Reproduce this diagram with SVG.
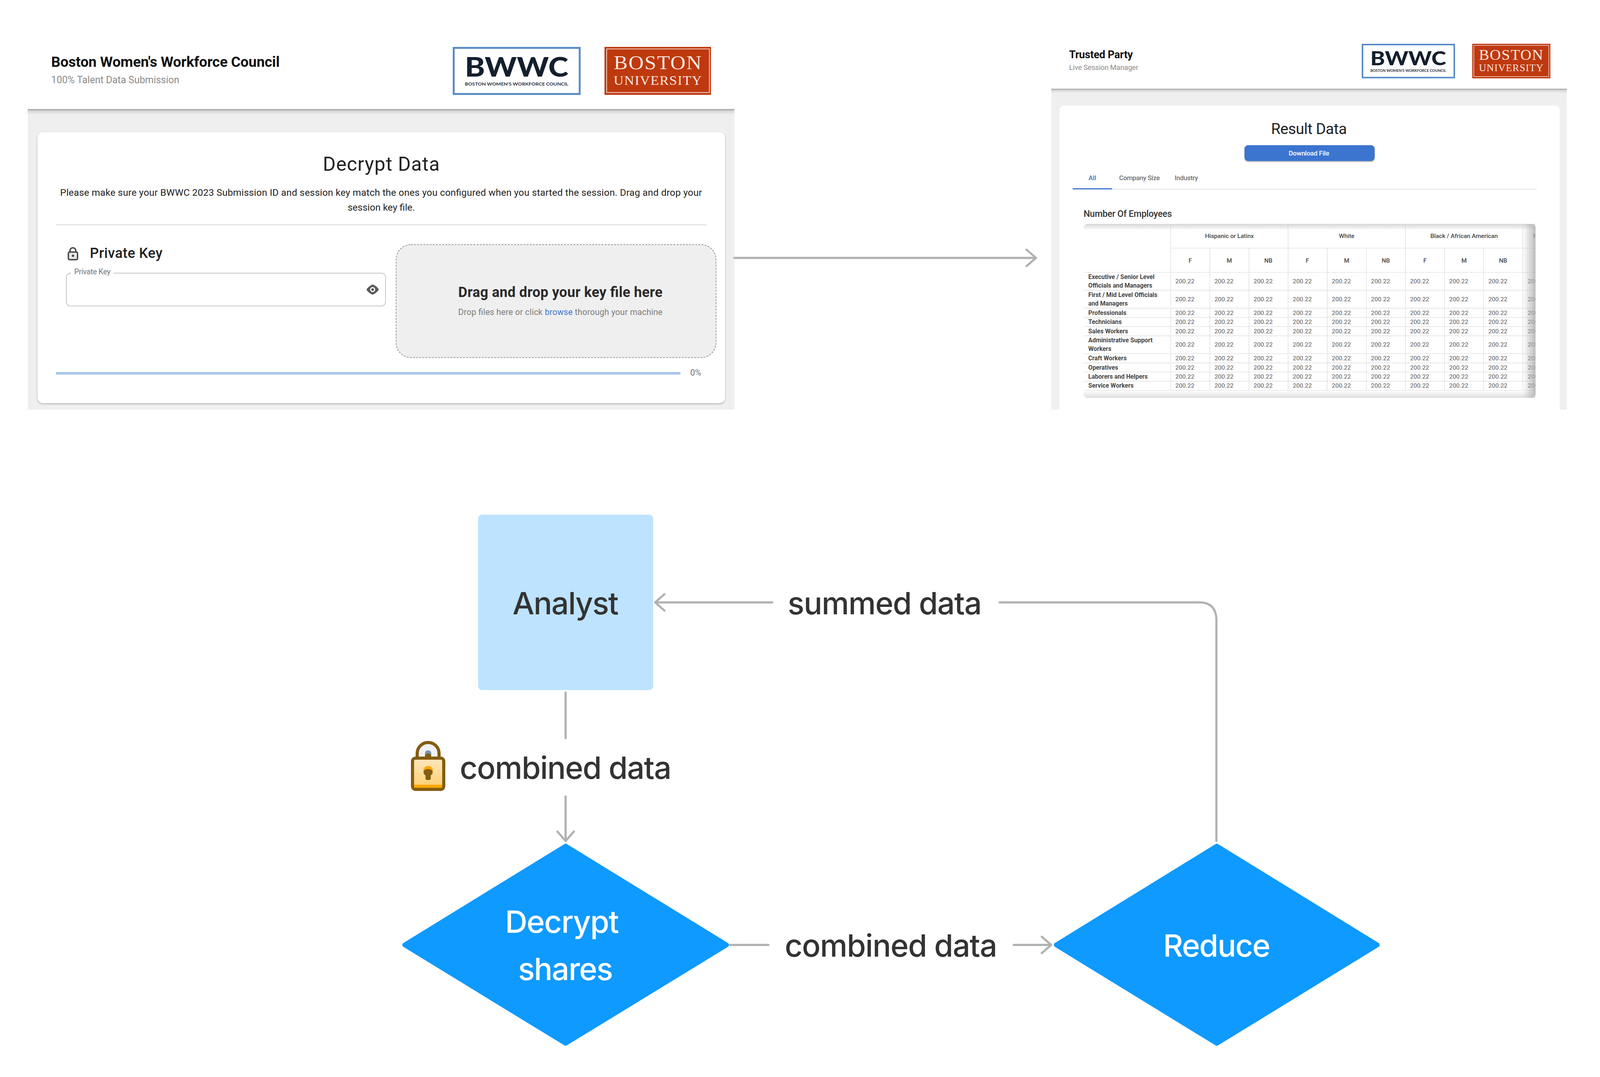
<svg xmlns="http://www.w3.org/2000/svg" width="4118" height="2756" viewBox="0 0 4118 2756">
<style>
text{font-family:Roboto,"Liberation Sans",sans-serif}
.in{font-family:Inter,"Liberation Sans",sans-serif;font-size:79px;font-weight:500;fill:#333;text-anchor:middle}
.inw{fill:#fff}
.link{fill:none;stroke:#b1b1b1;stroke-width:5.5;stroke-linecap:round;stroke-linejoin:round}
.v{font-size:15.5px;fill:#555;letter-spacing:.2px}
.rl{font-size:15.8px;font-weight:700;fill:#444}
.th{font-size:15.5px;font-weight:500;fill:#444;text-anchor:middle}
.bw{font-family:Lato,"Liberation Sans",sans-serif;font-weight:900;fill:#141f2e}
.bws{font-family:Lato,"Liberation Sans",sans-serif;font-weight:700;fill:#2a3442}
.bu{font-family:"Liberation Serif",serif;fill:#f7e9e2}
.dm{fill:#0f9aff;stroke:#0f9aff;stroke-width:12;stroke-linejoin:round}
</style>
<defs>
<linearGradient id="hdr" x1="0" y1="0" x2="0" y2="1"><stop offset="0" stop-color="#9a9a9a"/><stop offset=".35" stop-color="#d5d5d5"/><stop offset="1" stop-color="#efefef"/></linearGradient>
<linearGradient id="sr" x1="0" y1="0" x2="1" y2="0"><stop offset="0" stop-color="#b0b0b0" stop-opacity="0"/><stop offset="1" stop-color="#b0b0b0" stop-opacity=".85"/></linearGradient>
<linearGradient id="st" x1="0" y1="0" x2="0" y2="1"><stop offset="0" stop-color="#ccc" stop-opacity=".8"/><stop offset="1" stop-color="#ccc" stop-opacity="0"/></linearGradient>
<linearGradient id="sb" x1="0" y1="0" x2="0" y2="1"><stop offset="0" stop-color="#ddd" stop-opacity="0"/><stop offset="1" stop-color="#ddd" stop-opacity="1"/></linearGradient>
<linearGradient id="lockg" x1="0" y1="0" x2="0" y2="1"><stop offset="0" stop-color="#ffe7bd"/><stop offset="1" stop-color="#fdcf6e"/></linearGradient>
<filter id="card" x="-3%" y="-3%" width="106%" height="106%"><feDropShadow dx="0" dy="2" stdDeviation="2" flood-color="#000" flood-opacity=".3"/></filter>
<filter id="btn" x="-5%" y="-20%" width="110%" height="150%"><feDropShadow dx="0" dy="2" stdDeviation="1.5" flood-color="#000" flood-opacity=".35"/></filter>
<clipPath id="tbl"><rect x="2774" y="573" width="1157" height="445" rx="10"/></clipPath>
<marker id="arrow" viewBox="0 0 30 48" refX="28" refY="24" markerWidth="30" markerHeight="48" markerUnits="userSpaceOnUse" orient="auto"><path d="M4 3L28 24L4 45" fill="none" stroke="#b1b1b1" stroke-width="5.5" stroke-linecap="round" stroke-linejoin="round"/></marker>
</defs>
<rect width="4118" height="2756" fill="#fff"/>

<g id="screen-decrypt">
<text x="131" y="171" font-size="37" font-weight="700" fill="#111" textLength="585">Boston Women's Workforce Council</text>
<text x="131" y="212.500" font-size="25" fill="#8a8a8a" textLength="328">100% Talent Data Submission</text>
<g id="logo-bwwc-1">
<rect x="1161.500" y="122.500" width="322.500" height="118" fill="#fff" stroke="#5b8dc9" stroke-width="5"/>
<text class="bw" x="1190" y="196" font-size="69" textLength="265" lengthAdjust="spacingAndGlyphs">BWWC</text>
<text class="bws" x="1190" y="219" font-size="12" textLength="265" lengthAdjust="spacingAndGlyphs">BOSTON WOMEN'S WORKFORCE COUNCIL</text>
</g>
<g id="logo-bu-1">
<rect x="1547.500" y="120" width="272.500" height="122.700" fill="#bf390f"/>
<rect x="1553" y="125.300" width="263" height="111.400" fill="none" stroke="#f7e9e2" stroke-width="1.800"/>
<text class="bu" x="1571" y="177.300" font-size="50" letter-spacing="2" textLength="227" lengthAdjust="spacingAndGlyphs">BOSTON</text>
<text class="bu" x="1571" y="217.300" font-size="33" letter-spacing="1.500" textLength="227" lengthAdjust="spacingAndGlyphs">UNIVERSITY</text>
</g>
<rect x="71" y="279" width="1809" height="769" fill="#efefef"/>
<rect x="71" y="279" width="1809" height="14" fill="url(#hdr)"/>
<rect x="96" y="338.500" width="1760" height="693" rx="14" fill="#fff" filter="url(#card)"/>
<text x="976" y="436.700" font-size="50" fill="#222" text-anchor="middle" textLength="299">Decrypt Data</text>
<text x="154" y="501" font-size="24.500" fill="#222" textLength="1643">Please make sure your BWWC 2023 Submission ID and session key match the ones you configured when you started the session. Drag and drop your</text>
<text x="976" y="539" font-size="24.500" fill="#222" text-anchor="middle">session key file.</text>
<rect x="143" y="574" width="1666" height="2.500" fill="#e0e0e0"/>
<g id="lock-small" fill="#444">
<path d="M179 645v-3.500a7.500 7.500 0 0 1 15 0V645" fill="none" stroke="#444" stroke-width="3.500"/>
<rect x="175" y="645" width="23.500" height="19.500" rx="3" fill="#e6e6e6" stroke="#444" stroke-width="3.500"/>
<circle cx="186.800" cy="654.500" r="3"/>
</g>
<text x="230" y="660" font-size="36" font-weight="500" fill="#222" textLength="186">Private Key</text>
<path d="M182 699H180a10 10 0 0 0-10 10V773a10 10 0 0 0 10 10H977a10 10 0 0 0 10-10V709a10 10 0 0 0-10-10H291" fill="none" stroke="#c6c6c6" stroke-width="2"/>
<text x="190" y="702" font-size="19.500" fill="#777" textLength="93">Private Key</text>
<g id="eye">
<path d="M938 741c6-9 15-13 16-13s11 4 16 13c-6 9-15 13-16 13s-11-4-16-13z" fill="#5a5a5a"/>
<circle cx="954" cy="741" r="6.500" fill="#fff"/>
<circle cx="954" cy="741" r="3.500" fill="#5a5a5a"/>
</g>
<rect x="1014" y="626" width="819" height="289" rx="38" fill="#efefef" stroke="#9a9a9a" stroke-width="2" stroke-dasharray="5 3"/>
<text x="1173" y="760" font-size="36" font-weight="700" fill="#2a2a2a" textLength="523">Drag and drop your key file here</text>
<text x="1173" y="806" font-size="21.500" fill="#7b7b7b" textLength="523">Drop files here or click <tspan fill="#3a75d0">browse</tspan> thorough your machine</text>
<rect x="143" y="952" width="1599" height="6.500" fill="#a9c6ea"/>
<text x="1767" y="961" font-size="22" fill="#777" textLength="28">0%</text>
</g>

<g id="screen-result">
<text x="2737" y="149" font-size="27" font-weight="700" fill="#111" textLength="163">Trusted Party</text>
<text x="2737" y="179" font-size="18.500" fill="#8a8a8a" textLength="177">Live Session Manager</text>
<g id="logo-bwwc-2">
<rect x="3488" y="114" width="235" height="84.500" fill="#fff" stroke="#5b8dc9" stroke-width="4"/>
<text class="bw" x="3508" y="167" font-size="50" textLength="194" lengthAdjust="spacingAndGlyphs">BWWC</text>
<text class="bws" x="3508" y="183.500" font-size="9" textLength="194" lengthAdjust="spacingAndGlyphs">BOSTON WOMEN'S WORKFORCE COUNCIL</text>
</g>
<g id="logo-bu-2">
<rect x="3769" y="112" width="200" height="88.500" fill="#bf390f"/>
<rect x="3773" y="116" width="192" height="80" fill="none" stroke="#f7e9e2" stroke-width="1.400"/>
<text class="bu" x="3786" y="153" font-size="37" letter-spacing="1.500" textLength="166" lengthAdjust="spacingAndGlyphs">BOSTON</text>
<text class="bu" x="3786" y="182" font-size="24.500" letter-spacing="1" textLength="166" lengthAdjust="spacingAndGlyphs">UNIVERSITY</text>
</g>
<rect x="2691.500" y="227" width="1319.500" height="821" fill="#efefef"/>
<rect x="2691.500" y="227" width="1319.500" height="11" fill="url(#hdr)"/>
<path d="M2712 1048V282a12 12 0 0 1 12-12H3981a12 12 0 0 1 12 12V1048z" fill="#fff"/>
<text x="3351" y="343" font-size="39" fill="#222" text-anchor="middle" textLength="194">Result Data</text>
<rect x="3186" y="371.500" width="333" height="40.500" rx="9" fill="#3a75d0" filter="url(#btn)"/>
<text x="3351" y="397.600" font-size="17" font-weight="500" fill="#fff" text-anchor="middle" textLength="104">Download File</text>
<text x="2796.500" y="461" font-size="17" font-weight="500" fill="#3a75d0" text-anchor="middle">All</text>
<text x="2865" y="461" font-size="17" font-weight="500" fill="#6e6e6e" textLength="104">Company Size</text>
<text x="3007" y="461" font-size="17" font-weight="500" fill="#6e6e6e" textLength="60">Industry</text>
<rect x="2746" y="483.500" width="1188" height="1.500" fill="#dcdcdc"/>
<rect x="2746" y="481.500" width="101" height="3" fill="#3a75d0"/>
<text x="2774" y="555" font-size="23" font-weight="500" fill="#333" textLength="226">Number Of Employees</text>
<rect x="3915" y="573" width="16" height="445" fill="#e4e4e4"/>
<g id="result-table" clip-path="url(#tbl)">
<rect x="2774" y="573" width="1157" height="445" fill="#fff"/>
<path d="M2997 573V999M3297.500 573V999M3597.900 573V999M3898.400 573V999M3097.200 635V999M3197.300 635V999M3397.600 635V999M3497.800 635V999M3698 635V999M3798.200 635V999M2997 635H3931M2774 697H3931M2774 742.700H3931M2774 788.700H3931M2774 812.300H3931M2774 835.700H3931M2774 859.300H3931M2774 905H3931M2774 928.700H3931M2774 952H3931M2774 975.700H3931M2774 999H3931" fill="none" stroke="#e3e3e3" stroke-width="1.700"/>
<text class="th" x="3147.400" y="609.300">Hispanic or Latinx</text>
<text class="th" x="3447.600" y="609.300">White</text>
<text class="th" x="3748" y="609.300">Black / African American</text>
<text class="th" x="3925" y="609.300" style="text-anchor:start">N</text>
<text class="th" y="672"><tspan x="3047">F</tspan><tspan x="3147">M</tspan><tspan x="3247">NB</tspan><tspan x="3347">F</tspan><tspan x="3447.500">M</tspan><tspan x="3547.700">NB</tspan><tspan x="3648">F</tspan><tspan x="3748">M</tspan><tspan x="3848">NB</tspan></text>
<text class="rl" x="2786" y="714.300">Executive / Senior Level</text>
<text class="rl" x="2786" y="736">Officials and Managers</text>
<text class="rl" x="2786" y="760">First / Mid Level Officials</text>
<text class="rl" x="2786" y="782">and Managers</text>
<text class="rl" x="2786" y="805.700">Professionals</text>
<text class="rl" x="2786" y="829.300">Technicians</text>
<text class="rl" x="2786" y="852.700">Sales Workers</text>
<text class="rl" x="2786" y="876">Administrative Support</text>
<text class="rl" x="2786" y="898.300">Workers</text>
<text class="rl" x="2786" y="922">Craft Workers</text>
<text class="rl" x="2786" y="945.700">Operatives</text>
<text class="rl" x="2786" y="969">Laborers and Helpers</text>
<text class="rl" x="2786" y="992.300">Service Workers</text>
<text class="v" y="725.300"><tspan x="3009">200.22</tspan><tspan x="3109.200">200.22</tspan><tspan x="3209.300">200.22</tspan><tspan x="3309.500">200.22</tspan><tspan x="3409.600">200.22</tspan><tspan x="3509.800">200.22</tspan><tspan x="3609.900">200.22</tspan><tspan x="3710">200.22</tspan><tspan x="3810.200">200.22</tspan><tspan x="3911">200.22</tspan></text>
<text class="v" y="771"><tspan x="3009">200.22</tspan><tspan x="3109.200">200.22</tspan><tspan x="3209.300">200.22</tspan><tspan x="3309.500">200.22</tspan><tspan x="3409.600">200.22</tspan><tspan x="3509.800">200.22</tspan><tspan x="3609.900">200.22</tspan><tspan x="3710">200.22</tspan><tspan x="3810.200">200.22</tspan><tspan x="3911">200.22</tspan></text>
<text class="v" y="805.700"><tspan x="3009">200.22</tspan><tspan x="3109.200">200.22</tspan><tspan x="3209.300">200.22</tspan><tspan x="3309.500">200.22</tspan><tspan x="3409.600">200.22</tspan><tspan x="3509.800">200.22</tspan><tspan x="3609.900">200.22</tspan><tspan x="3710">200.22</tspan><tspan x="3810.200">200.22</tspan><tspan x="3911">200.22</tspan></text>
<text class="v" y="829.300"><tspan x="3009">200.22</tspan><tspan x="3109.200">200.22</tspan><tspan x="3209.300">200.22</tspan><tspan x="3309.500">200.22</tspan><tspan x="3409.600">200.22</tspan><tspan x="3509.800">200.22</tspan><tspan x="3609.900">200.22</tspan><tspan x="3710">200.22</tspan><tspan x="3810.200">200.22</tspan><tspan x="3911">200.22</tspan></text>
<text class="v" y="852.700"><tspan x="3009">200.22</tspan><tspan x="3109.200">200.22</tspan><tspan x="3209.300">200.22</tspan><tspan x="3309.500">200.22</tspan><tspan x="3409.600">200.22</tspan><tspan x="3509.800">200.22</tspan><tspan x="3609.900">200.22</tspan><tspan x="3710">200.22</tspan><tspan x="3810.200">200.22</tspan><tspan x="3911">200.22</tspan></text>
<text class="v" y="887.300"><tspan x="3009">200.22</tspan><tspan x="3109.200">200.22</tspan><tspan x="3209.300">200.22</tspan><tspan x="3309.500">200.22</tspan><tspan x="3409.600">200.22</tspan><tspan x="3509.800">200.22</tspan><tspan x="3609.900">200.22</tspan><tspan x="3710">200.22</tspan><tspan x="3810.200">200.22</tspan><tspan x="3911">200.22</tspan></text>
<text class="v" y="922"><tspan x="3009">200.22</tspan><tspan x="3109.200">200.22</tspan><tspan x="3209.300">200.22</tspan><tspan x="3309.500">200.22</tspan><tspan x="3409.600">200.22</tspan><tspan x="3509.800">200.22</tspan><tspan x="3609.900">200.22</tspan><tspan x="3710">200.22</tspan><tspan x="3810.200">200.22</tspan><tspan x="3911">200.22</tspan></text>
<text class="v" y="945.700"><tspan x="3009">200.22</tspan><tspan x="3109.200">200.22</tspan><tspan x="3209.300">200.22</tspan><tspan x="3309.500">200.22</tspan><tspan x="3409.600">200.22</tspan><tspan x="3509.800">200.22</tspan><tspan x="3609.900">200.22</tspan><tspan x="3710">200.22</tspan><tspan x="3810.200">200.22</tspan><tspan x="3911">200.22</tspan></text>
<text class="v" y="969"><tspan x="3009">200.22</tspan><tspan x="3109.200">200.22</tspan><tspan x="3209.300">200.22</tspan><tspan x="3309.500">200.22</tspan><tspan x="3409.600">200.22</tspan><tspan x="3509.800">200.22</tspan><tspan x="3609.900">200.22</tspan><tspan x="3710">200.22</tspan><tspan x="3810.200">200.22</tspan><tspan x="3911">200.22</tspan></text>
<text class="v" y="992.300"><tspan x="3009">200.22</tspan><tspan x="3109.200">200.22</tspan><tspan x="3209.300">200.22</tspan><tspan x="3309.500">200.22</tspan><tspan x="3409.600">200.22</tspan><tspan x="3509.800">200.22</tspan><tspan x="3609.900">200.22</tspan><tspan x="3710">200.22</tspan><tspan x="3810.200">200.22</tspan><tspan x="3911">200.22</tspan></text>
<rect x="2774" y="573" width="1157" height="16" fill="url(#st)"/>
<rect x="2774" y="1000" width="1157" height="18" fill="url(#sb)"/>
<rect x="3899" y="573" width="32" height="445" fill="url(#sr)"/>
</g>
</g>

<g id="connectors">
<path class="link" d="M1880 660H2652" marker-end="url(#arrow)"/>
<path class="link" d="M1977 1541.500H1677" marker-end="url(#arrow)"/>
<path class="link" d="M2559 1541.500H3070Q3114 1541.500 3114 1588V2152"/>
<path class="link" d="M1448 1772V1889"/>
<path class="link" d="M1448 2038V2152" marker-end="url(#arrow)"/>
<path class="link" d="M1869 2418H1967"/>
<path class="link" d="M2595 2418H2691" marker-end="url(#arrow)"/>
</g>

<g id="analyst">
<rect x="1224" y="1317" width="448" height="449" rx="10" fill="#bde3ff"/>
<text class="in" x="1448" y="1572" textLength="272">Analyst</text>
</g>
<g id="decrypt-shares">
<path class="dm" d="M1448 2165L1860 2418L1448 2670L1036 2418Z"/>
<text class="in inw" x="1439" y="2387" textLength="292">Decrypt</text>
<text class="in inw" x="1448" y="2508" textLength="243">shares</text>
</g>
<g id="reduce">
<path class="dm" d="M3115 2165L3526 2418L3115 2670L2704 2418Z"/>
<text class="in inw" x="3115" y="2448" textLength="275">Reduce</text>
</g>
<g id="edge-labels">
<text class="in" x="2265" y="1572" textLength="497">summed data</text>
<text class="in" x="1448" y="1993" textLength="542">combined data</text>
<text class="in" x="2281" y="2448" textLength="544">combined data</text>
</g>
<g id="lock-emoji" transform="translate(1030 1880) scale(.3333)">
<path d="M114 190V144a84 84 0 0 1 168 0V190" fill="#f0f2f5" stroke="#835d11" stroke-width="24"/>
<rect x="174" y="120" width="48" height="80" rx="24" fill="#7e93a8"/>
<path d="M174 192V168a24 24 0 0 1 48 0V192z" fill="#835d11"/>
<rect x="78" y="180" width="240" height="240" rx="24" fill="url(#lockg)" stroke="#835d11" stroke-width="24"/>
<path d="M90 380q0 4 6 4H300q6 0 6-4v22q0 6-6 6H96q-6 0-6-6z" fill="#ffa800"/>
<circle cx="198" cy="276" r="36" fill="#ffa800"/>
<path d="M163 290c0-18 16-26 35-26s35 8 35 26c0 14-12 18-15 24v22c0 7-5 12-12 12h-16c-7 0-12-5-12-12v-22c-3-6-15-10-15-24z" fill="#835d11"/>
</g>
</svg>
